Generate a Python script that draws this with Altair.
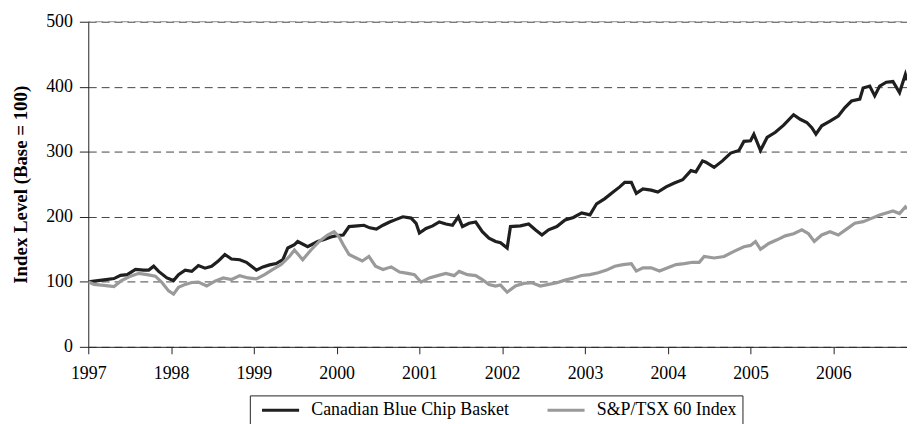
import altair as alt
import pandas as pd

series_names = ["Canadian Blue Chip Basket", "S&P/TSX 60 Index"]
series_colors = ["#1f1f1f", "#9a9a9a"]
x_ticks = list(range(1997, 2007))
y_ticks = [0, 100, 200, 300, 400, 500]

blue_chip_years = [
    1997.0, 1997.07, 1997.19, 1997.31, 1997.39, 1997.47, 1997.57, 1997.67, 1997.73, 1997.79,
    1997.85, 1997.95, 1998.03, 1998.09, 1998.17, 1998.25, 1998.33, 1998.41, 1998.49, 1998.57,
    1998.65, 1998.73, 1998.83, 1998.91, 1998.96, 1999.03, 1999.11, 1999.19, 1999.27, 1999.35,
    1999.41, 1999.49, 1999.53, 1999.65, 1999.77, 1999.85, 1999.93, 2000.0, 2000.08, 2000.15,
    2000.25, 2000.33, 2000.40, 2000.48, 2000.56, 2000.64, 2000.72, 2000.80, 2000.90, 2000.96,
    2001.0, 2001.08, 2001.16, 2001.24, 2001.32, 2001.40, 2001.47, 2001.52, 2001.60, 2001.68,
    2001.76, 2001.84, 2001.92, 2001.98, 2002.06, 2002.10, 2002.22, 2002.32, 2002.40, 2002.48,
    2002.56, 2002.66, 2002.76, 2002.86, 2002.96, 2003.06, 2003.14, 2003.24, 2003.34, 2003.42,
    2003.48, 2003.56, 2003.62, 2003.70, 2003.80, 2003.88, 2003.98, 2004.08, 2004.18, 2004.28,
    2004.34, 2004.42, 2004.46, 2004.56, 2004.66, 2004.76, 2004.86, 2004.92, 2005.0, 2005.04,
    2005.12, 2005.20, 2005.30, 2005.40, 2005.52, 2005.60, 2005.68, 2005.74, 2005.79, 2005.86,
    2005.96, 2006.06, 2006.14, 2006.22, 2006.32, 2006.36, 2006.44, 2006.50, 2006.56, 2006.64,
    2006.72, 2006.80, 2006.87, 2006.89,
]
blue_chip_values = [
    100, 101, 103, 105, 110, 111, 119, 118, 118, 124,
    116, 106, 102, 111, 118, 116, 125, 121, 124, 132,
    142, 135, 134, 130, 125, 118, 123, 126, 128, 134,
    152, 157, 162, 154, 162, 165, 169, 171, 172, 185,
    186, 187, 183, 181, 187, 192, 196, 200, 198, 190,
    175, 182, 186, 192, 189, 187, 200, 185, 190, 192,
    177, 167, 162, 160, 152, 185, 186, 189, 180, 172,
    180, 185, 195, 199, 206, 203, 220, 228, 238, 246,
    253, 253, 236, 243, 241, 238, 246, 252, 257, 271,
    269, 286, 284, 276, 286, 298, 302, 316, 317, 327,
    302, 322, 330, 341, 357, 350, 345, 337, 327, 340,
    347, 355, 368, 378, 381, 398, 401, 386, 401, 407,
    408, 391, 419, 410,
]

tsx_years = [
    1997.0, 1997.07, 1997.19, 1997.31, 1997.39, 1997.51, 1997.61, 1997.71, 1997.81, 1997.89,
    1997.97, 1998.03, 1998.09, 1998.17, 1998.25, 1998.33, 1998.43, 1998.53, 1998.63, 1998.73,
    1998.83, 1998.93, 1999.03, 1999.13, 1999.23, 1999.33, 1999.43, 1999.49, 1999.59, 1999.69,
    1999.79, 1999.89, 1999.97, 2000.03, 2000.08, 2000.15, 2000.23, 2000.31, 2000.39, 2000.47,
    2000.56, 2000.66, 2000.76, 2000.86, 2000.94, 2001.02, 2001.12, 2001.22, 2001.32, 2001.42,
    2001.48, 2001.58, 2001.68, 2001.76, 2001.84, 2001.92, 2001.98, 2002.06, 2002.16, 2002.26,
    2002.36, 2002.46, 2002.56, 2002.66, 2002.76, 2002.86, 2002.96, 2003.06, 2003.16, 2003.26,
    2003.36, 2003.46, 2003.56, 2003.62, 2003.70, 2003.80, 2003.90, 2004.0, 2004.10, 2004.20,
    2004.30, 2004.38, 2004.44, 2004.56, 2004.68, 2004.80, 2004.92, 2005.0, 2005.06, 2005.12,
    2005.22, 2005.32, 2005.42, 2005.52, 2005.62, 2005.70, 2005.77, 2005.86, 2005.96, 2006.06,
    2006.16, 2006.26, 2006.36, 2006.46, 2006.56, 2006.64, 2006.72, 2006.80, 2006.87, 2006.89,
]
tsx_values = [
    100, 96, 94.5, 92.5, 101, 108.7, 113, 111, 108.7, 99,
    86, 81, 91.5, 96, 99, 99.5, 93.5, 101, 106, 103.5,
    109.5, 106, 104.5, 111, 119, 126.5, 139, 149, 134, 149,
    162, 172, 177, 169, 157, 142, 137, 132, 139, 124,
    119, 123, 115, 113, 111, 99.6, 106, 109.5, 113, 109.5,
    116, 111, 109.5, 103.5, 96, 93.5, 95, 84, 93.5, 97.5,
    98.5, 93.5, 96, 98.5, 102.6, 106, 109.7, 111, 114, 118,
    124, 126.5, 128, 116.5, 121.5, 121.5, 116.5, 121.5, 126.5, 128,
    130, 130, 139, 136.7, 139, 146.8, 154, 156, 162, 150,
    159, 164.6, 170.7, 174, 180, 174, 162, 172, 177, 172,
    181, 190, 192.5, 197.6, 202.7, 206, 209, 205, 215, 212,
]

df = pd.concat([
    pd.DataFrame({"year": blue_chip_years, "value": blue_chip_values, "series": series_names[0]}),
    pd.DataFrame({"year": tsx_years, "value": tsx_values, "series": series_names[1]}),
], ignore_index=True)

font = "Liberation Serif"
x_scale = alt.Scale(domain=[1997, 2006.89], nice=False, zero=False)
y_scale = alt.Scale(domain=[0, 500], nice=False)

lines = alt.Chart(df).mark_line(strokeWidth=3.2, clip=True).encode(
    x=alt.X("year:Q", scale=x_scale,
            axis=alt.Axis(values=x_ticks, format="d", title=None, grid=False, tickSize=7,
                          labelPadding=25, labelBaseline="alphabetic", labelFlush=False)),
    y=alt.Y("value:Q", scale=y_scale,
            axis=alt.Axis(values=y_ticks, title="Index Level (Base = 100)", grid=True,
                          gridDash=[8, 5], gridColor="#444444", gridWidth=1,
                          tickSize=9, labelPadding=7,
                          titleX=-62, titleY=164, titleAngle=-90, titleBaseline="alphabetic",
                          titleAlign="center", titleFontWeight="bold", titleFontSize=19)),
    color=alt.Color("series:N", scale=alt.Scale(domain=series_names, range=series_colors),
                    legend=alt.Legend(title=None, orient="none", legendX=163, legendY=377,
                                      direction="horizontal", symbolType="M-2.2,0H2.2",
                                      symbolSize=289, symbolStrokeWidth=3,
                                      symbolOffset=16,
                                      labelFont=font, labelFontSize=18, labelColor="black",
                                      strokeColor="#222222", fillColor="white", padding=5,
                                      labelOffset=21, columnPadding=31, labelLimit=400)),
    order=alt.Order("series:N", sort="descending"),
)

top_rule = alt.Chart(pd.DataFrame({"v": [500]})).mark_rule(
    color="#8a8a8a", strokeWidth=1, strokeDash=[8, 5], strokeDashOffset=8
).encode(y=alt.Y("v:Q", scale=y_scale))

chart = alt.layer(lines, top_rule).properties(
    width=826, height=328,
    autosize=alt.AutoSizeParams(type="none"),
    padding={"left": 81, "top": 12, "right": 0, "bottom": 76},
).configure_axis(
    labelFont=font, labelFontSize=18, labelColor="black",
    titleFont=font, titleFontSize=19, titleColor="black",
    domainColor="#222222", tickColor="#222222", domainWidth=1, tickWidth=1,
).configure_view(stroke=None)

chart.save("out.html", embed_options={"renderer": "svg", "actions": False})
